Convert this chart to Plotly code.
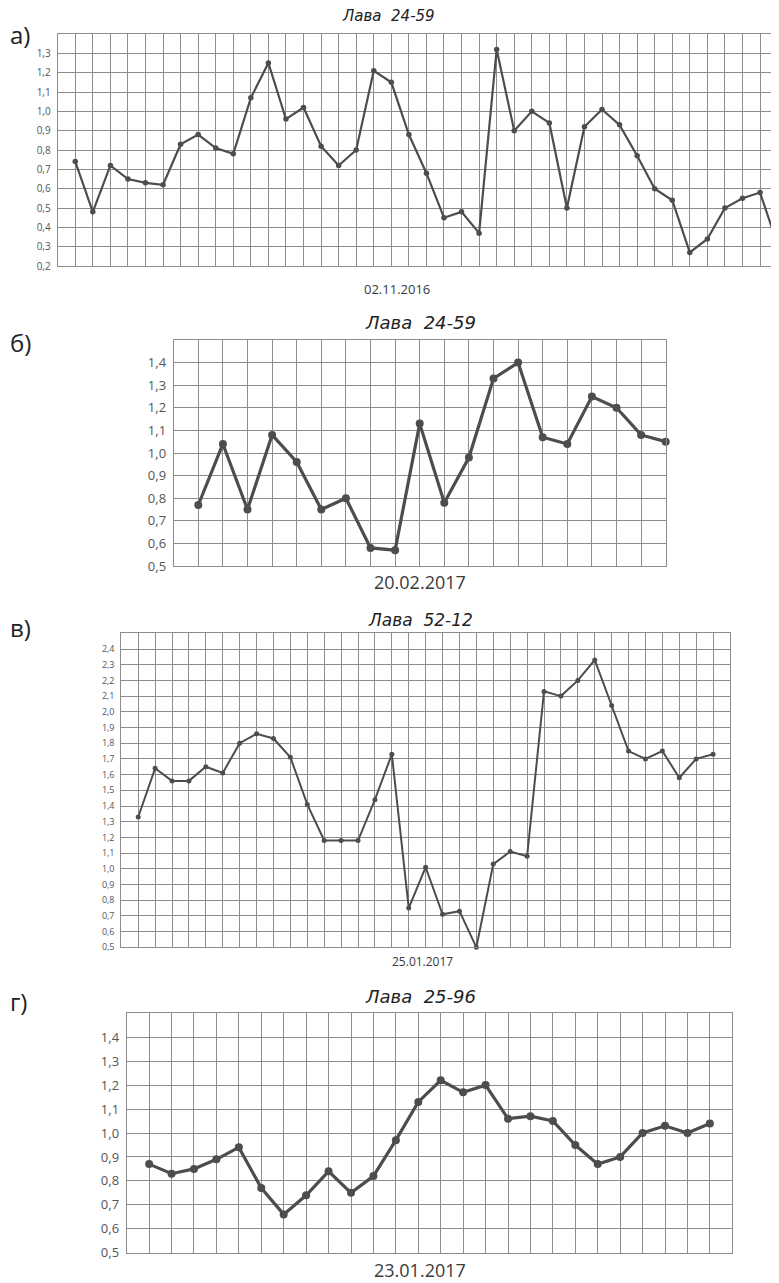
import plotly.graph_objects as go

# page body adds an 8px margin; the figure is sized/positioned to compensate
OFF = 8
W, H = 779 - OFF, 1283 - OFF

# ---------------- data ----------------
lava_a = [0.74, 0.48, 0.72, 0.65, 0.63, 0.62, 0.83, 0.88, 0.81, 0.78,
          1.07, 1.25, 0.96, 1.02, 0.82, 0.72, 0.80, 1.21, 1.15, 0.88,
          0.68, 0.45, 0.48, 0.37, 1.32, 0.90, 1.00, 0.94, 0.50, 0.92,
          1.01, 0.93, 0.77, 0.60, 0.54, 0.27, 0.34, 0.50, 0.55, 0.58, 0.31]
lava_b = [0.77, 1.04, 0.75, 1.08, 0.96, 0.75, 0.80, 0.58, 0.57, 1.13,
          0.78, 0.98, 1.33, 1.40, 1.07, 1.04, 1.25, 1.20, 1.08, 1.05]
lava_c = [1.33, 1.64, 1.56, 1.56, 1.65, 1.61, 1.80, 1.86, 1.83, 1.71,
          1.41, 1.18, 1.18, 1.18, 1.44, 1.73, 0.75, 1.01, 0.71, 0.73,
          0.50, 1.03, 1.11, 1.08, 2.13, 2.10, 2.20, 2.33, 2.04, 1.75,
          1.70, 1.75, 1.58, 1.70, 1.73]
lava_d = [0.87, 0.83, 0.85, 0.89, 0.94, 0.77, 0.66, 0.74, 0.84, 0.75,
          0.82, 0.97, 1.13, 1.22, 1.17, 1.20, 1.06, 1.07, 1.05, 0.95,
          0.87, 0.90, 1.00, 1.03, 1.00, 1.04]

panel_letters = ["а)", "б)", "в)", "г)"]
titles = ["Лава  24-59", "Лава  24-59", "Лава  52-12", "Лава  25-96"]
dates = ["02.11.2016", "20.02.2017", "25.01.2017", "23.01.2017"]

ticks_a = [0.2, 0.3, 0.4, 0.5, 0.6, 0.7, 0.8, 0.9, 1.0, 1.1, 1.2, 1.3]
ticks_bd = [0.5, 0.6, 0.7, 0.8, 0.9, 1.0, 1.1, 1.2, 1.3, 1.4]
ticks_c = [0.5, 0.6, 0.7, 0.8, 0.9, 1.0, 1.1, 1.2, 1.3, 1.4, 1.5, 1.6,
           1.7, 1.8, 1.9, 2.0, 2.1, 2.2, 2.3, 2.4]


def fmt(v):
    return f"{v:.1f}".replace(".", ",")


# ---------------- layout geometry (screen pixels) ----------------
panels = [
    dict(y=lava_a, ticks=ticks_a, yr=[0.2, 1.4], xr=[-1, 40.08],
         box=(57.7, 779, 34, 266), lw=2.2, ms=5.5, tfs=10,
         title_xy=(388, 16), tsize=15, date_xy=(397, 289), dsize=13,
         letter_y=35),
    dict(y=lava_b, ticks=ticks_bd, yr=[0.5, 1.5], xr=[-1, 19],
         box=(173.7, 665.7, 340, 566), lw=3.2, ms=8, tfs=13,
         title_xy=(420, 322), tsize=18, date_xy=(420, 582), dsize=18,
         letter_y=343),
    dict(y=lava_c, ticks=ticks_c, yr=[0.5, 2.5], xr=[-1, 35],
         box=(121.3, 730, 633.3, 947.3), lw=2.0, ms=5, tfs=9,
         title_xy=(420, 620), tsize=17, date_xy=(422, 961), dsize=12,
         letter_y=627),
    dict(y=lava_d, ticks=ticks_bd, yr=[0.5, 1.5], xr=[-1, 26],
         box=(126.7, 732.3, 1013.3, 1252.7), lw=3.2, ms=8, tfs=13,
         title_xy=(420, 996), tsize=18, date_xy=(420, 1270), dsize=18,
         letter_y=1001),
]

LINE = "#4d4d4d"
GRID = "#8c8c8c"
TXT = "#3a3a3a"


def px(x):
    return (x - OFF) / W


def py(y):
    return 1 - (y - OFF) / H


fig = go.Figure()
layout = dict(width=W, height=H, margin=dict(l=0, r=0, t=0, b=0, pad=0),
              autosize=False, template="none", showlegend=False,
              plot_bgcolor="white", paper_bgcolor="white")

annotations = []
for i, p in enumerate(panels):
    n = i + 1
    xa = "x" if n == 1 else f"x{n}"
    ya = "y" if n == 1 else f"y{n}"
    xkey = "xaxis" if n == 1 else f"xaxis{n}"
    ykey = "yaxis" if n == 1 else f"yaxis{n}"
    x0, x1, top, bot = p["box"]
    npts = len(p["y"])
    fig.add_trace(go.Scatter(
        x=list(range(npts)), y=p["y"], mode="lines+markers",
        line=dict(color=LINE, width=p["lw"]),
        marker=dict(color=LINE, size=p["ms"]),
        cliponaxis=False, xaxis=xa, yaxis=ya, hoverinfo="skip"))
    xt = list(range(-1, int(p["xr"][1]) + 1))
    layout[xkey] = dict(domain=[px(x0), min(1.0, px(x1))], range=p["xr"],
                        anchor=ya, tickvals=xt, showticklabels=False,
                        ticks="", showgrid=True, gridcolor=GRID, gridwidth=1,
                        zeroline=False, showline=True, linecolor=GRID,
                        linewidth=1, mirror=True, automargin=False,
                        fixedrange=True)
    layout[ykey] = dict(domain=[py(bot), py(top)], range=p["yr"],
                        anchor=xa, tickvals=p["ticks"],
                        ticktext=[fmt(v) for v in p["ticks"]],
                        ticks="", ticklabelstandoff=4,
                        tickfont=dict(family="Open Sans", size=p["tfs"],
                                      color="#555555"),
                        showgrid=True, gridcolor=GRID, gridwidth=1,
                        zeroline=False, showline=True, linecolor=GRID,
                        linewidth=1, mirror=True, automargin=False,
                        fixedrange=True)
    tx, ty = p["title_xy"]
    annotations.append(dict(
        x=px(tx), y=py(ty), xref="paper", yref="paper",
        text="<i>" + titles[i].replace(" ", "&nbsp;") + "</i>",
        showarrow=False, xanchor="center", yanchor="middle",
        font=dict(family="DejaVu Sans", size=p["tsize"], color="#222222")))
    dx, dy = p["date_xy"]
    annotations.append(dict(
        x=px(dx), y=py(dy), xref="paper", yref="paper",
        text=dates[i], showarrow=False, xanchor="center", yanchor="middle",
        font=dict(family="Open Sans", size=p["dsize"], color=TXT)))
    annotations.append(dict(
        x=px(8), y=py(p["letter_y"]), xref="paper", yref="paper",
        text=panel_letters[i], showarrow=False, xanchor="left",
        yanchor="middle",
        font=dict(family="Open Sans", size=24, color="#222222")))

layout["annotations"] = annotations
fig.update_layout(**layout)
fig.write_html("out.html")
